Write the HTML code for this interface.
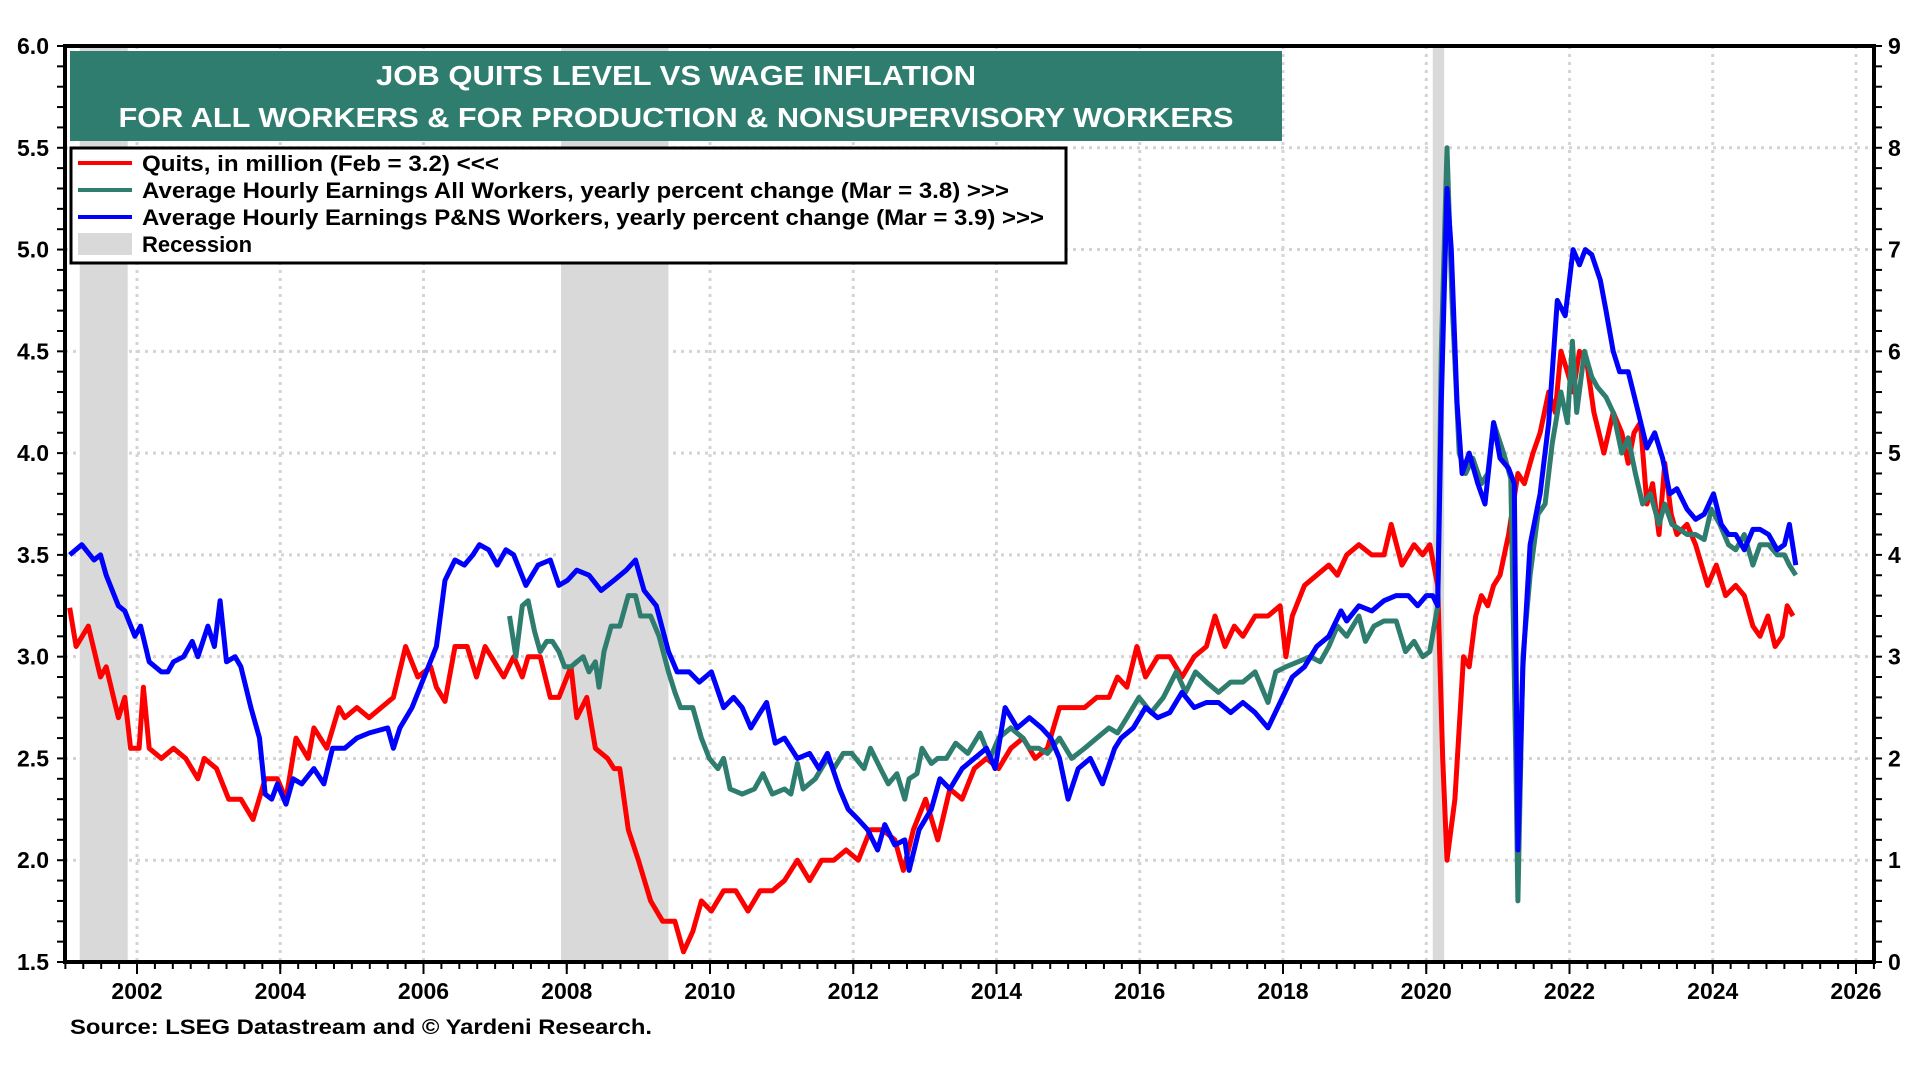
<!DOCTYPE html>
<html><head><meta charset="utf-8"><style>
html,body{margin:0;padding:0;background:#fff;width:1920px;height:1080px;overflow:hidden}
text{font-family:"Liberation Sans",Arial,sans-serif;font-weight:bold}
</style></head><body>
<svg id="chart" width="1920" height="1080" xmlns="http://www.w3.org/2000/svg">
<g id="grid"></g>
<g id="rec"></g>
<g id="series"></g>
<g id="axes"></g>
<g>
<rect x="70" y="51" width="1212" height="90" fill="#2e7d6e"/>
<text x="676" y="85" fill="#fff" font-size="28" text-anchor="middle" textLength="600" lengthAdjust="spacingAndGlyphs">JOB QUITS LEVEL VS WAGE INFLATION</text>
<text x="676" y="127" fill="#fff" font-size="28" text-anchor="middle" textLength="1115" lengthAdjust="spacingAndGlyphs">FOR ALL WORKERS &amp; FOR PRODUCTION &amp; NONSUPERVISORY WORKERS</text>
</g>
<g>
<rect x="71" y="148" width="995" height="115" fill="#fff" stroke="#000" stroke-width="3"/>
<g><line x1="78" y1="163" x2="132" y2="163" stroke="#ff0000" stroke-width="4"/><text x="142" y="171" font-size="22" textLength="357" lengthAdjust="spacingAndGlyphs">Quits, in million (Feb = 3.2) &lt;&lt;&lt;</text></g>
<g><line x1="78" y1="190" x2="132" y2="190" stroke="#2e7d6e" stroke-width="4"/><text x="142" y="198" font-size="22" textLength="867" lengthAdjust="spacingAndGlyphs">Average Hourly Earnings All Workers, yearly percent change (Mar = 3.8) &gt;&gt;&gt;</text></g>
<g><line x1="78" y1="217" x2="132" y2="217" stroke="#0000ff" stroke-width="4"/><text x="142" y="225" font-size="22" textLength="902" lengthAdjust="spacingAndGlyphs">Average Hourly Earnings P&amp;NS Workers, yearly percent change (Mar = 3.9) &gt;&gt;&gt;</text></g>
<g><rect x="78" y="233" width="54" height="22" fill="#d9d9d9"/><text x="142" y="252" font-size="22">Recession</text></g>
</g>
<text x="70" y="1034" font-size="21" textLength="582" lengthAdjust="spacingAndGlyphs">Source: LSEG Datastream and © Yardeni Research.</text>
</svg>
<script>
const recStart=[2001.2,2007.92,2020.09];
const recEnd=[2001.87,2009.42,2020.25];
const xTicks=[2002,2004,2006,2008,2010,2012,2014,2016,2018,2020,2022,2024,2026];
const leftTicks=[1.5,2.0,2.5,3.0,3.5,4.0,4.5,5.0,5.5,6.0];
const rightTicks=[0,1,2,3,4,5,6,7,8,9];
const quitsDates=[2001.06,2001.15,2001.32,2001.49,2001.57,2001.74,2001.83,2001.91,2002.03,2002.09,2002.17,2002.34,2002.51,2002.68,2002.85,2002.94,2003.11,2003.28,2003.45,2003.62,2003.79,2003.96,2004.08,2004.22,2004.39,2004.47,2004.65,2004.82,2004.90,2005.07,2005.24,2005.41,2005.58,2005.75,2005.92,2006.10,2006.18,2006.30,2006.44,2006.61,2006.74,2006.86,2007.12,2007.26,2007.38,2007.46,2007.63,2007.77,2007.89,2008.06,2008.14,2008.28,2008.40,2008.57,2008.66,2008.74,2008.86,2009.00,2009.17,2009.34,2009.51,2009.63,2009.76,2009.88,2010.02,2010.19,2010.36,2010.53,2010.70,2010.87,2011.04,2011.22,2011.39,2011.56,2011.73,2011.90,2012.07,2012.24,2012.41,2012.58,2012.70,2012.84,2013.01,2013.18,2013.35,2013.52,2013.69,2013.86,2014.03,2014.20,2014.37,2014.54,2014.71,2014.88,2015.05,2015.23,2015.40,2015.57,2015.69,2015.82,2015.96,2016.08,2016.25,2016.42,2016.59,2016.76,2016.93,2017.05,2017.19,2017.32,2017.44,2017.61,2017.79,2017.96,2018.04,2018.13,2018.30,2018.47,2018.64,2018.76,2018.89,2019.06,2019.24,2019.41,2019.51,2019.66,2019.83,2019.95,2020.05,2020.16,2020.23,2020.29,2020.40,2020.52,2020.60,2020.69,2020.77,2020.86,2020.94,2021.03,2021.15,2021.28,2021.37,2021.49,2021.59,2021.71,2021.80,2021.88,2021.97,2022.05,2022.14,2022.24,2022.34,2022.48,2022.61,2022.73,2022.82,2022.90,2022.99,2023.08,2023.16,2023.25,2023.33,2023.42,2023.50,2023.64,2023.76,2023.93,2024.05,2024.18,2024.32,2024.44,2024.56,2024.66,2024.77,2024.87,2024.97,2025.04,2025.12];
const quitsValues=[3.24,3.05,3.15,2.9,2.95,2.7,2.8,2.55,2.55,2.85,2.55,2.5,2.55,2.5,2.4,2.5,2.45,2.3,2.3,2.2,2.4,2.4,2.3,2.6,2.5,2.65,2.55,2.75,2.7,2.75,2.7,2.75,2.8,3.05,2.9,2.95,2.85,2.78,3.05,3.05,2.9,3.05,2.9,3.0,2.9,3.0,3.0,2.8,2.8,2.95,2.7,2.8,2.55,2.5,2.45,2.45,2.15,2.0,1.8,1.7,1.7,1.55,1.65,1.8,1.75,1.85,1.85,1.75,1.85,1.85,1.9,2.0,1.9,2.0,2.0,2.05,2.0,2.15,2.15,2.1,1.95,2.15,2.3,2.1,2.35,2.3,2.45,2.5,2.45,2.55,2.6,2.5,2.55,2.75,2.75,2.75,2.8,2.8,2.9,2.85,3.05,2.9,3.0,3.0,2.9,3.0,3.05,3.2,3.05,3.15,3.1,3.2,3.2,3.25,3.0,3.2,3.35,3.4,3.45,3.4,3.5,3.55,3.5,3.5,3.65,3.45,3.55,3.5,3.55,3.35,2.5,2.0,2.3,3.0,2.95,3.2,3.3,3.25,3.35,3.4,3.6,3.9,3.85,4.0,4.1,4.3,4.2,4.5,4.4,4.3,4.5,4.45,4.2,4.0,4.2,4.1,3.95,4.1,4.15,3.75,3.85,3.6,3.95,3.7,3.6,3.65,3.55,3.35,3.45,3.3,3.35,3.3,3.15,3.1,3.2,3.05,3.1,3.25,3.2];
const pnsDates=[2001.06,2001.23,2001.40,2001.49,2001.57,2001.74,2001.83,2001.97,2002.05,2002.17,2002.34,2002.43,2002.51,2002.65,2002.77,2002.85,2002.99,2003.08,2003.16,2003.25,2003.37,2003.45,2003.59,2003.71,2003.79,2003.88,2003.96,2004.08,2004.18,2004.30,2004.47,2004.61,2004.73,2004.90,2005.07,2005.24,2005.50,2005.58,2005.67,2005.84,2006.01,2006.18,2006.30,2006.44,2006.57,2006.69,2006.78,2006.91,2007.03,2007.15,2007.26,2007.43,2007.60,2007.77,2007.89,2008.01,2008.14,2008.31,2008.48,2008.66,2008.83,2008.96,2009.08,2009.25,2009.42,2009.54,2009.71,2009.85,2010.02,2010.19,2010.33,2010.45,2010.57,2010.70,2010.79,2010.91,2011.04,2011.22,2011.39,2011.52,2011.64,2011.81,2011.93,2012.07,2012.20,2012.34,2012.44,2012.58,2012.72,2012.78,2012.92,2013.09,2013.21,2013.35,2013.52,2013.69,2013.86,2013.98,2014.12,2014.29,2014.46,2014.63,2014.76,2014.88,2015.00,2015.14,2015.31,2015.48,2015.65,2015.74,2015.91,2016.08,2016.25,2016.42,2016.59,2016.76,2016.93,2017.10,2017.27,2017.44,2017.61,2017.79,2017.96,2018.13,2018.30,2018.47,2018.64,2018.81,2018.89,2019.06,2019.24,2019.41,2019.58,2019.75,2019.88,2020.00,2020.09,2020.16,2020.21,2020.29,2020.35,2020.43,2020.50,2020.60,2020.72,2020.82,2020.94,2021.03,2021.15,2021.23,2021.28,2021.35,2021.45,2021.59,2021.71,2021.83,2021.94,2022.05,2022.14,2022.22,2022.31,2022.43,2022.51,2022.61,2022.70,2022.82,2022.96,2023.08,2023.19,2023.30,2023.40,2023.50,2023.64,2023.76,2023.88,2024.01,2024.12,2024.22,2024.32,2024.44,2024.56,2024.66,2024.78,2024.90,2025.00,2025.07,2025.16];
const pnsValues=[4.0,4.1,3.95,4.0,3.8,3.5,3.45,3.2,3.3,2.95,2.85,2.85,2.95,3.0,3.15,3.0,3.3,3.1,3.55,2.95,3.0,2.9,2.5,2.2,1.65,1.6,1.75,1.55,1.8,1.75,1.9,1.75,2.1,2.1,2.2,2.25,2.3,2.1,2.3,2.5,2.8,3.1,3.75,3.95,3.9,4.0,4.1,4.05,3.9,4.05,4.0,3.7,3.9,3.95,3.7,3.75,3.85,3.8,3.65,3.75,3.85,3.95,3.65,3.5,3.05,2.85,2.85,2.75,2.85,2.5,2.6,2.5,2.3,2.45,2.55,2.15,2.2,2.0,2.05,1.9,2.05,1.7,1.5,1.4,1.3,1.1,1.35,1.15,1.2,0.9,1.3,1.5,1.8,1.7,1.9,2.0,2.1,1.9,2.5,2.3,2.4,2.3,2.2,2.0,1.6,1.9,2.0,1.75,2.1,2.2,2.3,2.5,2.4,2.45,2.65,2.5,2.55,2.55,2.45,2.55,2.45,2.3,2.55,2.8,2.9,3.1,3.2,3.45,3.35,3.5,3.45,3.55,3.6,3.6,3.5,3.6,3.6,3.5,5.5,7.6,7.0,5.5,4.8,5.0,4.7,4.5,5.3,4.95,4.85,4.7,1.1,2.9,4.1,4.6,5.3,6.5,6.35,7.0,6.85,7.0,6.95,6.7,6.4,6.0,5.8,5.8,5.4,5.05,5.2,4.95,4.6,4.65,4.45,4.35,4.4,4.6,4.3,4.2,4.2,4.05,4.25,4.25,4.2,4.05,4.1,4.3,3.9];
const allDates=[2007.20,2007.29,2007.38,2007.46,2007.55,2007.63,2007.72,2007.80,2007.89,2007.97,2008.06,2008.14,2008.23,2008.31,2008.40,2008.45,2008.52,2008.62,2008.74,2008.86,2008.96,2009.03,2009.17,2009.29,2009.42,2009.51,2009.59,2009.76,2009.88,2009.99,2010.11,2010.19,2010.28,2010.45,2010.62,2010.74,2010.87,2011.04,2011.13,2011.22,2011.30,2011.47,2011.64,2011.73,2011.86,2011.98,2012.15,2012.24,2012.38,2012.49,2012.61,2012.72,2012.78,2012.89,2012.96,2013.09,2013.18,2013.30,2013.43,2013.60,2013.77,2013.91,2014.03,2014.20,2014.37,2014.46,2014.59,2014.71,2014.88,2015.05,2015.23,2015.40,2015.57,2015.69,2015.82,2015.99,2016.16,2016.33,2016.51,2016.64,2016.78,2016.93,2017.10,2017.27,2017.44,2017.61,2017.79,2017.90,2018.04,2018.21,2018.38,2018.52,2018.64,2018.76,2018.89,2019.06,2019.15,2019.27,2019.41,2019.58,2019.71,2019.83,2019.95,2020.05,2020.16,2020.21,2020.29,2020.36,2020.46,2020.55,2020.65,2020.77,2020.86,2020.94,2021.08,2021.18,2021.25,2021.28,2021.35,2021.45,2021.56,2021.66,2021.76,2021.88,2021.97,2022.04,2022.10,2022.21,2022.31,2022.39,2022.51,2022.61,2022.73,2022.82,2022.92,2023.02,2023.13,2023.25,2023.33,2023.43,2023.54,2023.64,2023.76,2023.88,2023.98,2024.10,2024.22,2024.32,2024.44,2024.56,2024.66,2024.78,2024.90,2025.00,2025.07,2025.16];
const allValues=[3.4,3.0,3.5,3.55,3.25,3.05,3.15,3.15,3.05,2.9,2.9,2.95,3.0,2.85,2.95,2.7,3.05,3.3,3.3,3.6,3.6,3.4,3.4,3.2,2.85,2.65,2.5,2.5,2.2,2.0,1.9,2.0,1.7,1.65,1.7,1.85,1.65,1.7,1.65,1.95,1.7,1.8,2.0,1.9,2.05,2.05,1.9,2.1,1.9,1.75,1.85,1.6,1.8,1.85,2.1,1.95,2.0,2.0,2.15,2.05,2.25,2.0,2.2,2.3,2.2,2.1,2.1,2.05,2.2,2.0,2.1,2.2,2.3,2.25,2.4,2.6,2.45,2.6,2.85,2.65,2.85,2.75,2.65,2.75,2.75,2.85,2.55,2.85,2.9,2.95,3.0,2.95,3.1,3.3,3.2,3.4,3.15,3.3,3.35,3.35,3.05,3.15,3.0,3.05,3.5,6.0,8.0,6.5,5.0,4.8,4.95,4.7,4.8,5.3,5.0,4.75,2.0,0.6,3.0,3.8,4.4,4.5,5.1,5.6,5.3,6.1,5.4,6.0,5.75,5.65,5.55,5.4,5.0,5.15,4.8,4.5,4.6,4.3,4.5,4.3,4.25,4.2,4.2,4.15,4.45,4.3,4.1,4.05,4.2,3.9,4.1,4.1,4.0,4.0,3.9,3.8];

const NS='http://www.w3.org/2000/svg';
const PL=65,PR=1874,PT=46,PB=962;
function xS(y){return 137+(y-2002)*(1856-137)/24;}
function yL(v){return PB-(v-1.5)*(PB-PT)/4.5;}
function yR(v){return PB-v*(PB-PT)/9;}
function mk(tag,attrs,parent){const e=document.createElementNS(NS,tag);for(const k in attrs)e.setAttribute(k,attrs[k]);parent.appendChild(e);return e;}
const grid=document.getElementById('grid'),rec=document.getElementById('rec'),ser=document.getElementById('series'),ax=document.getElementById('axes');
for(let i=0;i<recStart.length;i++){
  const r=mk('rect',{x:xS(recStart[i]),y:PT,width:xS(recEnd[i])-xS(recStart[i]),height:PB-PT,fill:'#d9d9d9'},rec);
  
  
}
xTicks.forEach(t=>{
  const l=mk('line',{x1:xS(t),x2:xS(t),y1:PT,y2:PB,stroke:'#d4d4d4','stroke-width':3,'stroke-dasharray':'3,5'},grid);
  
  
  const tx=mk('text',{x:xS(t),y:PB+37,'font-size':23,'text-anchor':'middle'},ax);tx.textContent=t;
  
  
  mk('line',{x1:xS(t),x2:xS(t),y1:PB,y2:PB+12,stroke:'#000','stroke-width':2},ax);
});
for(let q=2001;q<=2026.25;q+=0.25){mk('line',{x1:xS(q),x2:xS(q),y1:PB,y2:PB+7,stroke:'#000','stroke-width':2},ax);}
leftTicks.forEach(t=>{
  if(t>1.5&&t<6){const g=mk('line',{x1:PL,x2:PR,y1:yL(t),y2:yL(t),stroke:'#d4d4d4','stroke-width':3,'stroke-dasharray':'3,5'},grid);
  
  }
  const tx=mk('text',{x:49,y:yL(t)+8,'font-size':23,'text-anchor':'end'},ax);tx.textContent=t.toFixed(1);
  
  
});
for(let v=1.5;v<=6.001;v+=0.1){mk('line',{x1:PL-8,x2:PL,y1:yL(v),y2:yL(v),stroke:'#000','stroke-width':2},ax);}
rightTicks.forEach(t=>{
  const tx=mk('text',{x:1888,y:yR(t)+8,'font-size':23},ax);tx.textContent=t;
  
  
});
for(let v=0;v<=9.001;v+=0.2){mk('line',{x1:PR,x2:PR+8,y1:yR(v),y2:yR(v),stroke:'#000','stroke-width':2},ax);}
const frame=mk('rect',{x:PL,y:PT,width:PR-PL,height:PB-PT,fill:'none',stroke:'#000','stroke-width':4},ax);


function line(dates,vals,ys,color,name){
  const d=dates.map((t,i)=>(i?'L':'M')+xS(t).toFixed(1)+','+ys(vals[i]).toFixed(1)).join('');
  const p=mk('path',{d:d,fill:'none',stroke:color,'stroke-width':5,'stroke-linejoin':'round'},ser);
  
  
}
line(quitsDates,quitsValues,yL,'#ff0000','quits-line');
line(allDates,allValues,yR,'#2e7d6e','all-workers-wage-line');
line(pnsDates,pnsValues,yR,'#0000ff','pns-workers-wage-line');
</script>
</body></html>
